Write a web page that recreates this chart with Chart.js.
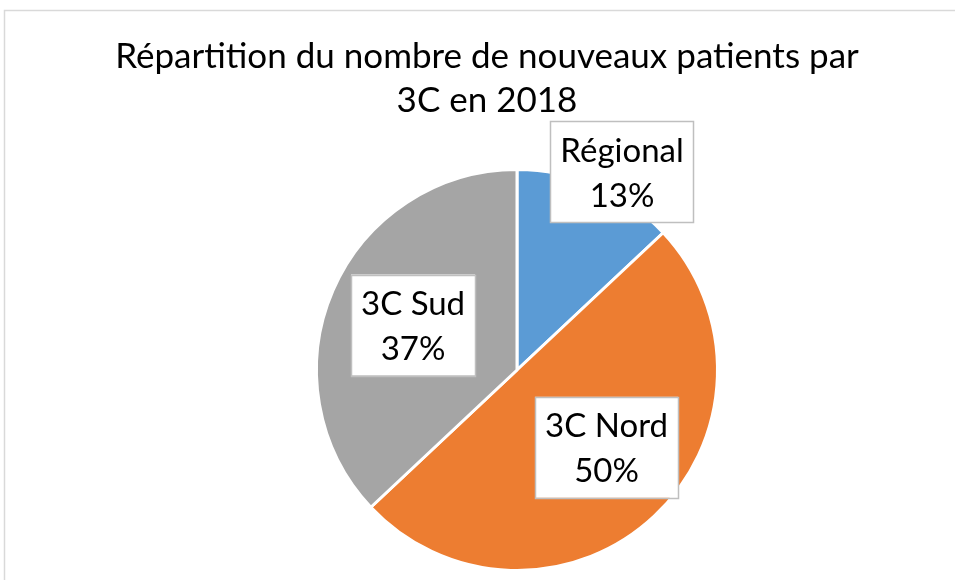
<!DOCTYPE html>
<html>
<head>
<meta charset="utf-8">
<script src="https://cdn.jsdelivr.net/npm/chart.js@4.4.0/dist/chart.umd.min.js"></script>
<style>
  html, body { margin: 0; padding: 0; background: #fff; }
</style>
</head>
<body>
<canvas id="myPie" width="955" height="580"></canvas>
<script>
const categories = ['Régional', '3C Nord', '3C Sud'];
const shares = [13, 50, 37];
const sliceColors = ['#5B9BD5', '#ED7D31', '#A5A5A5'];
const titleLines = ['Répartition du nombre de nouveaux patients par', '3C en 2018'];

(function () {
    const ctx = document.getElementById('myPie').getContext('2d');

    // light grey frame like the spreadsheet chart box
    const frame = {
        id: 'frame',
        beforeDraw(chart) {
            const c = chart.ctx;
            c.save();
            c.fillStyle = '#fff';
            c.fillRect(0, 0, chart.width, chart.height);
            c.strokeStyle = '#d9d9d9';
            c.lineWidth = 1.5;
            c.strokeRect(4.5, 10.5, chart.width + 20, chart.height + 20);
            c.restore();
        }
    };

    // two-line title, centred on the chart box rather than on the pie
    const boxTitle = {
        id: 'boxTitle',
        afterDraw(chart, args, opts) {
            const c = chart.ctx;
            c.save();
            c.font = opts.font;
            c.fillStyle = '#000';
            c.textAlign = 'center';
            c.textBaseline = 'alphabetic';
            titleLines.forEach((t, k) => c.fillText(t, opts.x, opts.y + k * opts.lineGap));
            c.restore();
        }
    };

    // boxed data labels: category + percentage
    const labelBoxes = {
        id: 'labelBoxes',
        afterDatasetsDraw(chart, args, opts) {
            const c = chart.ctx;
            const meta = chart.getDatasetMeta(0);
            const total = shares.reduce((a, b) => a + b, 0);
            c.save();
            c.font = opts.font;
            c.textAlign = 'center';
            c.textBaseline = 'alphabetic';
            meta.data.forEach((arc, i) => {
                const p = arc.getProps(['x', 'y', 'startAngle', 'endAngle', 'outerRadius'], true);
                const place = opts.place[i];
                const mid = (p.startAngle + p.endAngle) / 2 + place.shift * Math.PI / 180;
                const r = p.outerRadius * place.r;
                const cx = p.x + Math.cos(mid) * r;
                const cy = p.y + Math.sin(mid) * r;
                const lines = [categories[i], Math.round(shares[i] / total * 100) + '%'];
                const w = Math.max(...lines.map(t => c.measureText(t).width)) + opts.padX * 2;
                const h = opts.boxHeight;
                c.fillStyle = '#fff';
                c.fillRect(cx - w / 2, cy - h / 2, w, h);
                c.strokeStyle = '#bfbfbf';
                c.lineWidth = 1.5;
                c.strokeRect(Math.round(cx - w / 2) + 0.5, Math.round(cy - h / 2) + 0.5, Math.round(w), Math.round(h));
                c.fillStyle = '#000';
                lines.forEach((t, k) => {
                    c.fillText(t, cx, cy + opts.firstBaseline + k * opts.lineGap);
                });
            });
            c.restore();
        }
    };

    new Chart(ctx, {
        type: 'pie',
        data: {
            labels: categories,
            datasets: [{
                data: shares,
                backgroundColor: sliceColors,
                borderColor: '#fff',
                borderWidth: 3,
                hoverOffset: 0
            }]
        },
        options: {
            responsive: false,
            animation: false,
            layout: {
                padding: { top: 168, bottom: 8, left: 100, right: 21 }
            },
            plugins: {
                legend: { display: false },
                tooltip: { enabled: false },
                title: { display: false },
                boxTitle: {
                    font: '35px Lato',
                    x: 487,
                    y: 68,
                    lineGap: 44
                },
                labelBoxes: {
                    font: '33px Lato',
                    padX: 10,
                    boxHeight: 101,
                    firstBaseline: -10,
                    lineGap: 45,
                    place: [
                        { r: 1.12, shift: 4.5 },
                        { r: 0.59, shift: -6 },
                        { r: 0.565, shift: 0 }
                    ]
                }
            }
        },
        plugins: [frame, boxTitle, labelBoxes]
    });
})();
</script>
</body>
</html>
